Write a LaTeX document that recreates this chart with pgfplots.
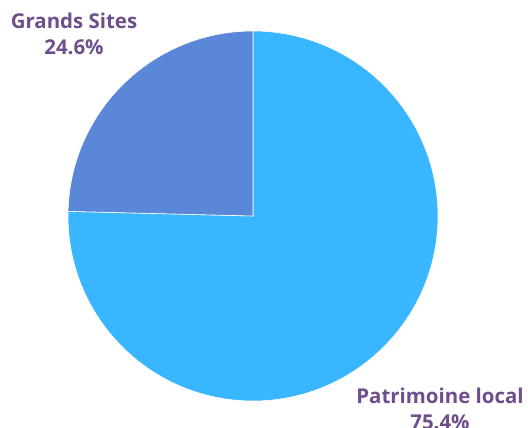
\documentclass[border=0pt]{standalone}
\usepackage{pgfplots}
\pgfplotsset{compat=1.18}
\usepackage{fontspec}
\setmainfont{Open Sans}
\definecolor{lightb}{HTML}{38B6FF}
\definecolor{darkb}{HTML}{5B87D9}
\definecolor{lab}{HTML}{6F4E8C}
\begin{document}
\begin{tikzpicture}
\pgfmathsetmacro{\vA}{24.6}
\pgfmathsetmacro{\vB}{75.4}
\pgfmathsetmacro{\aA}{90+3.6*\vA}
\pgfmathsetmacro{\pX}{185*cos(\aA)}
\pgfmathsetmacro{\pY}{185*sin(\aA)}
\begin{axis}[name=ax, scale only axis, width=528bp, height=428bp,
  xmin=-253, xmax=275, ymin=-212, ymax=216, hide axis, clip=false]
\fill[lightb, draw=white, line width=0.6pt] (axis cs:0,0) -- (axis cs:\pX,\pY) arc[start angle=\aA, end angle=450, radius=185bp] -- cycle;
\fill[darkb, draw=white, line width=0.6pt] (axis cs:0,0) -- (axis cs:0,185) arc[start angle=90, end angle=\aA, radius=185bp] -- cycle;
\node[anchor=base, font=\fontsize{20.5}{22}\selectfont\bfseries, text=lab] at (axis cs:-179,187) {Grands Sites};
\node[anchor=base, font=\fontsize{20.5}{22}\selectfont\bfseries, text=lab] at (axis cs:-179,161) {24.6\%};
\node[anchor=base, font=\fontsize{20.5}{22}\selectfont\bfseries, text=lab] at (axis cs:187,-187) {Patrimoine local};
\node[anchor=base, font=\fontsize{20.5}{22}\selectfont\bfseries, text=lab] at (axis cs:187,-213) {75.4\%};
\end{axis}
\pgfresetboundingbox
\useasboundingbox (ax.south west) rectangle (ax.north east);
\end{tikzpicture}
\end{document}
